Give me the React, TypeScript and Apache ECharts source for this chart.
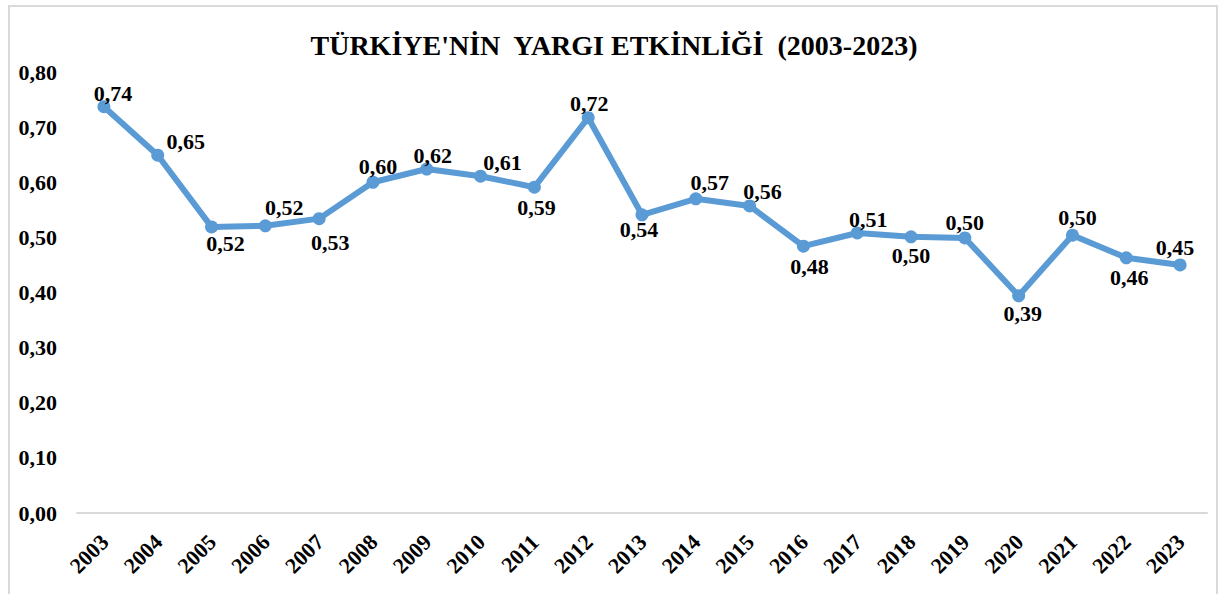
import React, { useEffect, useRef } from "react";
import * as echarts from "echarts";

const years = [
  "2003", "2004", "2005", "2006", "2007", "2008", "2009", "2010", "2011", "2012", "2013",
  "2014", "2015", "2016", "2017", "2018", "2019", "2020", "2021", "2022", "2023",
];
const values = [
  0.737, 0.649, 0.519, 0.521, 0.534, 0.6, 0.624, 0.611, 0.591, 0.717, 0.541,
  0.57, 0.557, 0.484, 0.508, 0.501, 0.499, 0.394, 0.504, 0.463, 0.45,
];
const labelOffsets = [
  [9, -13], [28, -14], [14, 17], [19, -18], [11, 24], [5, -16], [6, -14], [22, -14],
  [2, 20], [1, -14], [-3, 15], [14, -16], [13, -14], [6, 20], [11, -13], [0, 19],
  [0, -15], [4, 18], [5, -18], [3, 20], [-5, -17],
];
const titleText = "TÜRKİYE'NİN  YARGI ETKİNLİĞİ  (2003-2023)";

const FONT = "'Liberation Serif', 'Times New Roman', serif";
const fmt = (v: number) => v.toFixed(2).replace(".", ",");

export default function App() {
  const ref = useRef<HTMLDivElement>(null);
  useEffect(() => {
    if (!ref.current) return;
    const chart = echarts.init(ref.current, null, { renderer: "svg" });
    chart.setOption({
      animation: false,
      backgroundColor: "#ffffff",
      graphic: [
        {
          type: "rect",
          shape: { x: 9, y: 6, width: 1208, height: 620 },
          style: { fill: "none", stroke: "#d9d9d9", lineWidth: 2 },
          silent: true,
        },
        {
          type: "text",
          style: {
            text: titleText,
            x: 614,
            y: 45,
            align: "center",
            verticalAlign: "middle",
            fontFamily: FONT,
            fontWeight: "bold",
            fontSize: 28,
            fill: "#000000",
          },
        },
      ],
      grid: { left: 77, right: 16, top: 72, bottom: 81, containLabel: false },
      xAxis: {
        type: "category",
        data: years,
        boundaryGap: true,
        axisLine: { show: true, lineStyle: { color: "#d9d9d9", width: 2 } },
        axisTick: { show: false },
        splitLine: { show: false },
        axisLabel: {
          rotate: 45,
          interval: 0,
          margin: 26,
          padding: [0, -1, 0, 0],
          fontFamily: FONT,
          fontWeight: "bold",
          fontSize: 22,
          color: "#000000",
        },
      },
      yAxis: {
        type: "value",
        min: 0,
        max: 0.8,
        interval: 0.1,
        axisLine: { show: false },
        axisTick: { show: false },
        splitLine: { show: false },
        axisLabel: {
          margin: 20,
          formatter: (v: number) => fmt(v),
          fontFamily: FONT,
          fontWeight: "bold",
          fontSize: 22,
          color: "#000000",
        },
      },
      series: [
        {
          type: "line",
          data: values.map((v, i) => ({
            value: v,
            label: { offset: labelOffsets[i] },
          })),
          symbol: "circle",
          symbolSize: 13,
          itemStyle: { color: "#5b9bd5" },
          lineStyle: { color: "#5b9bd5", width: 6 },
          label: {
            show: true,
            position: "inside",
            formatter: (p: any) => fmt(p.value),
            fontFamily: FONT,
            fontWeight: "bold",
            fontSize: 22,
            color: "#000000",
            textBorderWidth: 0,
            textBorderColor: "transparent",
          },
        },
      ],
    });
    return () => chart.dispose();
  }, []);
  return (
    <div
      ref={ref}
      style={{ position: "fixed", left: 0, top: 0, width: 1223, height: 594 }}
    />
  );
}
